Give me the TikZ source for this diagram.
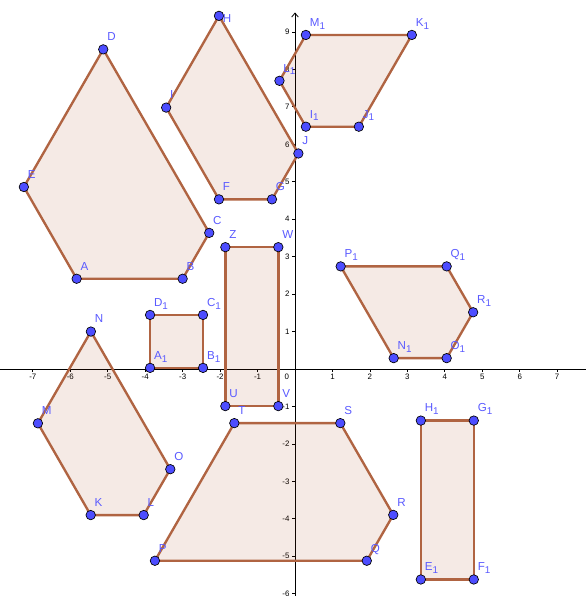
\documentclass[tikz,border=0pt]{standalone}
\usepackage{fontspec}
\setmainfont{Liberation Sans}
\usetikzlibrary{arrows.meta}

\definecolor{bordomarrone}{RGB}{176,100,66}
\definecolor{riempimarrone}{RGB}{153,51,0}
\definecolor{puntoblu}{RGB}{77,77,255}
\definecolor{testoblu}{RGB}{90,90,255}

\newcommand{\pedice}[1]{\raisebox{-0.45ex}{\fontsize{7.5}{8}\selectfont #1}}

\tikzset{
  poligono/.style={draw=bordomarrone, line width=1.8pt, line join=round, fill=riempimarrone, fill opacity=0.1},
  punto/.style={circle, draw=black, line width=0.5pt, fill=puntoblu, inner sep=0pt, minimum size=7.2pt},
  etichetta/.style={anchor=base west, inner sep=0pt, xshift=0.1cm, yshift=0.23cm, text=testoblu, font=\fontsize{8.8}{10}\selectfont},
  tacca/.style={font=\fontsize{6}{6}\selectfont, inner sep=0pt},
  asse/.style={line width=0.6pt, black}
}

\begin{document}
\begin{tikzpicture}
  \useasboundingbox (-7.877,-6.061) rectangle (7.770,9.853);

  % Assi
  \draw[asse] (-7.877,0) -- (7.770,0);
  \draw[asse, -{Straight Barb[length=3pt, width=5pt]}] (0,-6.061) -- (0,9.52);

  % Tacche asse x
  \foreach \x in {-7,-6,-5,-4,-3,-2,-1,1,2,3,4,5,6,7}
    \draw[asse] (\x,0) -- (\x,-0.07);
  \node[tacca] (tx7) at (-7, -0.2) {-7};
  \node[tacca] (tx6) at (-6, -0.2) {-6};
  \node[tacca] (tx5) at (-5, -0.2) {-5};
  \node[tacca] (tx4) at (-4, -0.2) {-4};
  \node[tacca] (tx3) at (-3, -0.2) {-3};
  \node[tacca] (tx2) at (-2, -0.2) {-2};
  \node[tacca] (tx1) at (-1, -0.2) {-1};
  \node[tacca] (tzero) at (-0.22, -0.21) {0};
  \node[tacca] (txp1) at (1, -0.2) {1};
  \node[tacca] (txp2) at (2, -0.2) {2};
  \node[tacca] (txp3) at (3, -0.2) {3};
  \node[tacca] (txp4) at (4, -0.2) {4};
  \node[tacca] (txp5) at (5, -0.2) {5};
  \node[tacca] (txp6) at (6, -0.2) {6};
  \node[tacca] (txp7) at (7, -0.2) {7};

  % Tacche asse y
  \foreach \y in {-6,-5,-4,-3,-2,-1,1,2,3,4,5,6,7,8,9}
    \draw[asse] (0,\y) -- (-0.07,\y);
  \node[tacca, anchor=east] (ty6) at (-0.14, -6) {-6};
  \node[tacca, anchor=east] (ty5) at (-0.14, -5) {-5};
  \node[tacca, anchor=east] (ty4) at (-0.14, -4) {-4};
  \node[tacca, anchor=east] (ty3) at (-0.14, -3) {-3};
  \node[tacca, anchor=east] (ty2) at (-0.14, -2) {-2};
  \node[tacca, anchor=east] (ty1) at (-0.14, -1) {-1};
  \node[tacca, anchor=east] (typ1) at (-0.14, 1) {1};
  \node[tacca, anchor=east] (typ2) at (-0.14, 2) {2};
  \node[tacca, anchor=east] (typ3) at (-0.14, 3) {3};
  \node[tacca, anchor=east] (typ4) at (-0.14, 4) {4};
  \node[tacca, anchor=east] (typ5) at (-0.14, 5) {5};
  \node[tacca, anchor=east] (typ6) at (-0.14, 6) {6};
  \node[tacca, anchor=east] (typ7) at (-0.14, 7) {7};
  \node[tacca, anchor=east] (typ8) at (-0.14, 8) {8};
  \node[tacca, anchor=east] (typ9) at (-0.14, 9) {9};

  % Vertici
  \coordinate (A) at (-5.83, 2.41);
  \coordinate (B) at (-3.00, 2.41);
  \coordinate (C) at (-2.29, 3.635);
  \coordinate (D) at (-5.12, 8.535);
  \coordinate (E) at (-7.24, 4.86);
  \coordinate (F) at (-2.03, 4.53);
  \coordinate (G) at (-0.615, 4.53);
  \coordinate (J) at (0.09, 5.755);
  \coordinate (H) at (-2.03, 9.43);
  \coordinate (I) at (-3.44, 6.98);
  \coordinate (I1) at (0.29, 6.47);
  \coordinate (J1) at (1.705, 6.47);
  \coordinate (K1) at (3.12, 8.92);
  \coordinate (M1) at (0.29, 8.92);
  \coordinate (L1) at (-0.415, 7.695);
  \coordinate (K) at (-5.455, -3.90);
  \coordinate (L) at (-4.04, -3.90);
  \coordinate (O) at (-3.33, -2.675);
  \coordinate (N) at (-5.45, 1.0);
  \coordinate (M) at (-6.865, -1.45);
  \coordinate (A1) at (-3.87, 0.03);
  \coordinate (B1) at (-2.456, 0.03);
  \coordinate (C1) at (-2.456, 1.444);
  \coordinate (D1) at (-3.87, 1.444);
  \coordinate (U) at (-1.86, -0.99);
  \coordinate (V) at (-0.445, -0.99);
  \coordinate (W) at (-0.445, 3.253);
  \coordinate (Z) at (-1.86, 3.253);
  \coordinate (P) at (-3.74, -5.12);
  \coordinate (Q) at (1.917, -5.12);
  \coordinate (R) at (2.624, -3.895);
  \coordinate (S) at (1.21, -1.445);
  \coordinate (T) at (-1.62, -1.445);
  \coordinate (N1) at (2.635, 0.29);
  \coordinate (O1) at (4.05, 0.29);
  \coordinate (R1) at (4.757, 1.515);
  \coordinate (Q1) at (4.05, 2.74);
  \coordinate (P1) at (1.22, 2.74);
  \coordinate (E1) at (3.36, -5.62);
  \coordinate (F1) at (4.774, -5.62);
  \coordinate (G1) at (4.774, -1.377);
  \coordinate (H1) at (3.36, -1.377);

  % Poligoni
  \filldraw[poligono] (A) -- (B) -- (C) -- (D) -- (E) -- cycle;
  \filldraw[poligono] (F) -- (G) -- (J) -- (H) -- (I) -- cycle;
  \filldraw[poligono] (I1) -- (J1) -- (K1) -- (M1) -- (L1) -- cycle;
  \filldraw[poligono] (K) -- (L) -- (O) -- (N) -- (M) -- cycle;
  \filldraw[poligono] (A1) -- (B1) -- (C1) -- (D1) -- cycle;
  \filldraw[poligono] (U) -- (V) -- (W) -- (Z) -- cycle;
  \filldraw[poligono] (P) -- (Q) -- (R) -- (S) -- (T) -- cycle;
  \filldraw[poligono] (N1) -- (O1) -- (R1) -- (Q1) -- (P1) -- cycle;
  \filldraw[poligono] (E1) -- (F1) -- (G1) -- (H1) -- cycle;

  % Punti
  \foreach \p in {A,B,C,D,E,F,G,H,I,J,K,L,M,N,O,P,Q,R,S,T,U,V,W,Z,
                  A1,B1,C1,D1,E1,F1,G1,H1,I1,J1,K1,L1,M1,N1,O1,P1,Q1,R1}
    \node[punto] (p\p) at (\p) {};

  % Etichette
  \node[etichetta] (eA) at (A) {A};
  \node[etichetta] (eB) at (B) {B};
  \node[etichetta] (eC) at (C) {C};
  \node[etichetta] (eD) at (D) {D};
  \node[etichetta] (eE) at (E) {E};
  \node[etichetta] (eF) at (F) {F};
  \node[etichetta] (eG) at (G) {G};
  \node[etichetta, yshift=-0.4cm] (eH) at (H) {H};
  \node[etichetta] (eI) at (I) {I};
  \node[etichetta] (eJ) at (J) {J};
  \node[etichetta] (eK) at (K) {K};
  \node[etichetta] (eL) at (L) {L};
  \node[etichetta] (eM) at (M) {M};
  \node[etichetta] (eN) at (N) {N};
  \node[etichetta] (eO) at (O) {O};
  \node[etichetta] (eP) at (P) {P};
  \node[etichetta] (eQ) at (Q) {Q};
  \node[etichetta] (eR) at (R) {R};
  \node[etichetta] (eS) at (S) {S};
  \node[etichetta] (eT) at (T) {T};
  \node[etichetta] (eU) at (U) {U};
  \node[etichetta] (eV) at (V) {V};
  \node[etichetta] (eW) at (W) {W};
  \node[etichetta] (eZ) at (Z) {Z};
  \node[etichetta] (eA1) at (A1) {A\pedice{1}};
  \node[etichetta] (eB1) at (B1) {B\pedice{1}};
  \node[etichetta] (eC1) at (C1) {C\pedice{1}};
  \node[etichetta] (eD1) at (D1) {D\pedice{1}};
  \node[etichetta] (eE1) at (E1) {E\pedice{1}};
  \node[etichetta] (eF1) at (F1) {F\pedice{1}};
  \node[etichetta] (eG1) at (G1) {G\pedice{1}};
  \node[etichetta] (eH1) at (H1) {H\pedice{1}};
  \node[etichetta] (eI1) at (I1) {I\pedice{1}};
  \node[etichetta] (eJ1) at (J1) {J\pedice{1}};
  \node[etichetta] (eK1) at (K1) {K\pedice{1}};
  \node[etichetta] (eL1) at (L1) {L\pedice{1}};
  \node[etichetta] (eM1) at (M1) {M\pedice{1}};
  \node[etichetta] (eN1) at (N1) {N\pedice{1}};
  \node[etichetta] (eO1) at (O1) {O\pedice{1}};
  \node[etichetta] (eP1) at (P1) {P\pedice{1}};
  \node[etichetta] (eQ1) at (Q1) {Q\pedice{1}};
  \node[etichetta] (eR1) at (R1) {R\pedice{1}};
\end{tikzpicture}
\end{document}
